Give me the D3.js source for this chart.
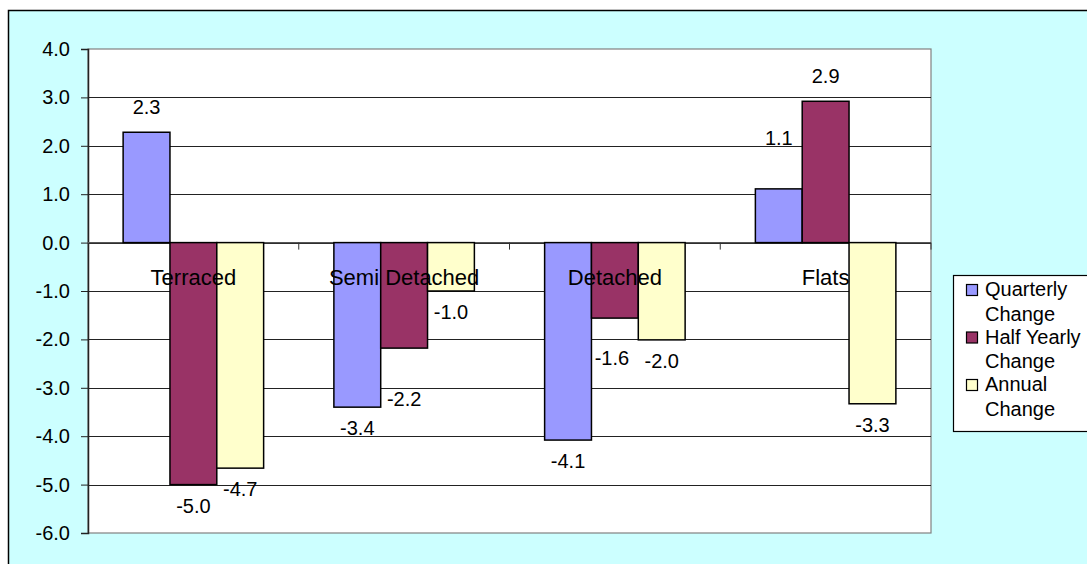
<!DOCTYPE html>
<html>
<head>
<meta charset="utf-8">
<script src="https://cdn.jsdelivr.net/npm/d3@7"></script>
<style>
  html, body { margin: 0; padding: 0; background: #ffffff; }
  svg { display: block; }
  text { font-family: "Liberation Sans", Arial, sans-serif; fill: #000; }
</style>
</head>
<body>
<svg id="chart" width="1087" height="564"></svg>
<script>
// ---- data ----
const categories = ["Terraced", "Semi Detached", "Detached", "Flats"];
const seriesNames = ["Quarterly Change", "Half Yearly Change", "Annual Change"];
const quarterly = [2.28, -3.40, -4.08, 1.11];
const halfYearly = [-5.00, -2.18, -1.56, 2.92];
const annual = [-4.66, -1.00, -2.01, -3.33];
const yTicks = [4, 3, 2, 1, 0, -1, -2, -3, -4, -5, -6];

// ---- styling / layout ----
const colors = ["#9999FF", "#993366", "#FFFFCC"];
const legendLines = [["Quarterly", "Change"], ["Half Yearly", "Change"], ["Annual", "Change"]];
const FONT = "20px";
// manual label nudges (pixels) for labels that were moved in the original
const labelNudge = {
  "3-0": [0, -26],   // Flats quarterly
  "1-1": [0, 30],    // Semi Detached half yearly
  "2-1": [-3, 19]    // Detached half yearly
};

const svg = d3.select("#chart");
const margin = { left: 88, top: 49, right: 931, bottom: 533 };

// outer frame
svg.append("rect")
  .attr("x", 8.5).attr("y", 10.5)
  .attr("width", 1100).attr("height", 600)
  .attr("fill", "#CCFFFF").attr("stroke", "#000").attr("stroke-width", 1.5);

const x0 = d3.scaleBand().domain(categories).range([margin.left, margin.right]).paddingInner(0).paddingOuter(0);
const x1 = d3.scaleBand().domain(d3.range(3)).range([0, x0.bandwidth()]).paddingInner(0).paddingOuter(0.75);
const y = d3.scaleLinear().domain([-6, 4]).range([margin.bottom, margin.top]);

// plot area
svg.append("rect")
  .attr("x", margin.left).attr("y", margin.top)
  .attr("width", margin.right - margin.left).attr("height", margin.bottom - margin.top)
  .attr("fill", "#fff").attr("stroke", "#808080").attr("stroke-width", 1.2);

// gridlines
svg.append("g").selectAll("line")
  .data(yTicks.filter(t => t !== -6 && t !== 4))
  .join("line")
  .attr("x1", margin.left).attr("x2", margin.right)
  .attr("y1", d => Math.round(y(d)) + 0.5).attr("y2", d => Math.round(y(d)) + 0.5)
  .attr("stroke", "#222").attr("stroke-width", 1);

// y axis
const yAxis = d3.axisLeft(y).tickValues(yTicks).tickFormat(d3.format(".1f")).tickSize(7).tickPadding(11);
const gy = svg.append("g").attr("transform", `translate(${margin.left},0)`).call(yAxis);
gy.select(".domain").attr("stroke", "#222").attr("stroke-width", 1.5);
gy.selectAll(".tick line").attr("stroke", "#222");
gy.selectAll(".tick text")
  .style("font-family", '"Liberation Sans", Arial, sans-serif')
  .style("font-size", FONT).attr("fill", "#000")
  .text(d => d3.format(".1f")(d).replace("−", "-"));

// zero axis with ticks
const zeroY = y(0);
svg.append("line")
  .attr("x1", margin.left).attr("x2", margin.right)
  .attr("y1", zeroY).attr("y2", zeroY)
  .attr("stroke", "#555").attr("stroke-width", 1.2);
svg.append("g").selectAll("line")
  .data(categories.slice(1).map(c => x0(c)).concat([margin.right]))
  .join("line")
  .attr("x1", d => d).attr("x2", d => d)
  .attr("y1", zeroY).attr("y2", zeroY + 7)
  .attr("stroke", "#333").attr("stroke-width", 1);

// bars
const allSeries = [quarterly, halfYearly, annual];
const barData = [];
categories.forEach((c, ci) => {
  allSeries.forEach((s, si) => barData.push({ c, ci, si, v: s[ci] }));
});

svg.append("g").selectAll("rect")
  .data(barData)
  .join("rect")
  .attr("x", d => x0(d.c) + x1(d.si))
  .attr("width", x1.bandwidth())
  .attr("y", d => y(Math.max(0, d.v)))
  .attr("height", d => Math.abs(y(d.v) - y(0)))
  .attr("fill", d => colors[d.si])
  .attr("stroke", "#000").attr("stroke-width", 1.5);

// category labels (drawn on top of bars)
svg.append("g").selectAll("text")
  .data(categories)
  .join("text")
  .attr("x", d => x0(d) + x0.bandwidth() / 2)
  .attr("y", zeroY + 42)
  .attr("text-anchor", "middle")
  .style("font-size", "22px")
  .text(d => d);

// value labels
const nudge = d => labelNudge[d.ci + "-" + d.si] || [0, 0];
svg.append("g").selectAll("text")
  .data(barData)
  .join("text")
  .attr("x", d => x0(d.c) + x1(d.si) + x1.bandwidth() / 2 + nudge(d)[0])
  .attr("y", d => (d.v >= 0 ? y(d.v) - 18 : y(d.v) + 28) + nudge(d)[1])
  .attr("text-anchor", "middle")
  .style("font-size", FONT)
  .text(d => d3.format(".1f")(d.v).replace("−", "-"));

// legend
const lg = svg.append("g");
lg.append("rect")
  .attr("x", 953.5).attr("y", 275.5).attr("width", 150).attr("height", 156)
  .attr("fill", "#fff").attr("stroke", "#000").attr("stroke-width", 1.2);
seriesNames.forEach((name, i) => {
  const base = 296 + i * 47.5;
  lg.append("rect")
    .attr("x", 966.5).attr("y", base - 11.5).attr("width", 11).attr("height", 11)
    .attr("fill", colors[i]).attr("stroke", "#000").attr("stroke-width", 1.2);
  legendLines[i].forEach((line, j) => {
    lg.append("text")
      .attr("x", 985).attr("y", base + j * 24.5)
      .style("font-size", FONT)
      .text(line);
  });
});
</script>
</body>
</html>
